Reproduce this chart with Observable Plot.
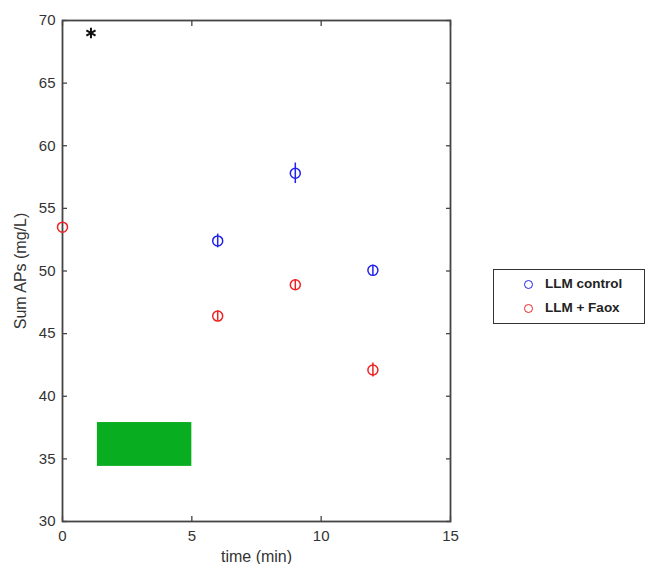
<!DOCTYPE html>
<html>
<head>
<meta charset="utf-8">
<script src="https://cdn.jsdelivr.net/npm/d3@7"></script>
<script src="https://cdn.jsdelivr.net/npm/@observablehq/plot@0.6"></script>
<style>
  html, body { margin: 0; padding: 0; background: #fff; }
  #wrap { position: relative; width: 647px; height: 564px; font-family: "Liberation Sans", Arial, sans-serif; }
  #legend { position: absolute; left: 493px; top: 269px; width: 152px; height: 55px; border: 1.3px solid #333; background: #fff; box-sizing: border-box; }
  .item { position: absolute; font-weight: bold; font-size: 13.5px; color: #222; white-space: nowrap; }
  .sw { position: absolute; width: 9px; height: 9px; border-radius: 50%; box-sizing: border-box; border: 1.4px solid; }
</style>
</head>
<body>
<div id="wrap"></div>
<script>
// Data
const times = [6, 9, 12];
const controlValues = [52.4, 57.8, 50.05];
const controlErr = [0.55, 0.82, 0.4];
const faoxTimes = [0, 6, 9, 12];
const faoxValues = [53.5, 46.4, 48.9, 42.1];
const faoxErr = [0.0, 0.4, 0.4, 0.56];
const seriesNames = ["LLM control", "LLM + Faox"];
const seriesColors = ["#2222ee", "#ee2222"];
const xTicks = [0, 5, 10, 15];
const yTicks = [30, 35, 40, 45, 50, 55, 60, 65, 70];
const greenBox = [{x1: 1.35, x2: 5.0, y1: 34.4, y2: 37.9}];
const starMark = [{x: 1.1, y: 69.0}];

const control = times.map((t, i) => ({t, v: controlValues[i], e: controlErr[i]}));
const faox = faoxTimes.map((t, i) => ({t, v: faoxValues[i], e: faoxErr[i]}));

const axisColor = "#444";
const chart = Plot.plot({
  width: 647,
  height: 564,
  marginLeft: 62,
  marginRight: 197,
  marginTop: 20,
  marginBottom: 43,
  style: {fontFamily: "'Liberation Sans', Arial, sans-serif", fontSize: "15px", color: "#333", background: "#fff"},
  x: {domain: [0, 15], ticks: xTicks},
  y: {domain: [30, 70], ticks: yTicks},
  marks: [
    Plot.rect(greenBox, {x1: "x1", x2: "x2", y1: "y1", y2: "y2", fill: "#08ad20"}),
    Plot.frame({stroke: axisColor, strokeWidth: 1.8}),
    Plot.axisX(xTicks, {anchor: "bottom", tickSize: -5, stroke: axisColor, strokeWidth: 1.3, tickPadding: 14, fontSize: 15, label: null, fill: "#333"}),
    Plot.axisX(xTicks, {anchor: "top", tickSize: -5, stroke: axisColor, strokeWidth: 1.3, tickFormat: () => "", label: null}),
    Plot.axisY(yTicks, {anchor: "left", tickSize: -5, stroke: axisColor, strokeWidth: 1.3, tickPadding: 12, fontSize: 15, label: null, fill: "#333"}),
    Plot.axisY(yTicks, {anchor: "right", tickSize: -5, stroke: axisColor, strokeWidth: 1.3, tickFormat: () => "", label: null}),
    Plot.axisX({anchor: "bottom", ticks: [], label: "time (min)", labelAnchor: "center", labelArrow: "none", labelOffset: 40, fontSize: 16, fill: "#333"}),
    Plot.axisY({anchor: "left", ticks: [], label: "Sum APs (mg/L)", labelAnchor: "center", labelArrow: "none", labelOffset: 48, fontSize: 16, fill: "#333"}),
    Plot.ruleX(control, {x: "t", y1: d => d.v - d.e, y2: d => d.v + d.e, stroke: seriesColors[0], strokeWidth: 1.5}),
    Plot.dot(control, {x: "t", y: "v", r: 5, stroke: seriesColors[0], strokeWidth: 1.5}),
    Plot.ruleX(faox, {x: "t", y1: d => d.v - d.e, y2: d => d.v + d.e, stroke: seriesColors[1], strokeWidth: 1.5}),
    Plot.dot(faox, {x: "t", y: "v", r: 5, stroke: seriesColors[1], strokeWidth: 1.5}),
    Plot.dot(starMark, {x: "x", y: "y", symbol: "asterisk", r: 5, stroke: "#111", strokeWidth: 2})
  ]
});
const wrap = document.getElementById("wrap");
wrap.appendChild(chart);

// Legend
const legend = document.createElement("div");
legend.id = "legend";
seriesNames.forEach((name, i) => {
  const sw = document.createElement("div");
  sw.className = "sw";
  sw.style.borderColor = seriesColors[i];
  sw.style.left = "30px";
  sw.style.top = (10 + i * 24) + "px";
  legend.appendChild(sw);
  const it = document.createElement("div");
  it.className = "item";
  it.textContent = name;
  it.style.left = "51px";
  it.style.top = (6 + i * 24) + "px";
  legend.appendChild(it);
});
wrap.appendChild(legend);
</script>
</body>
</html>
